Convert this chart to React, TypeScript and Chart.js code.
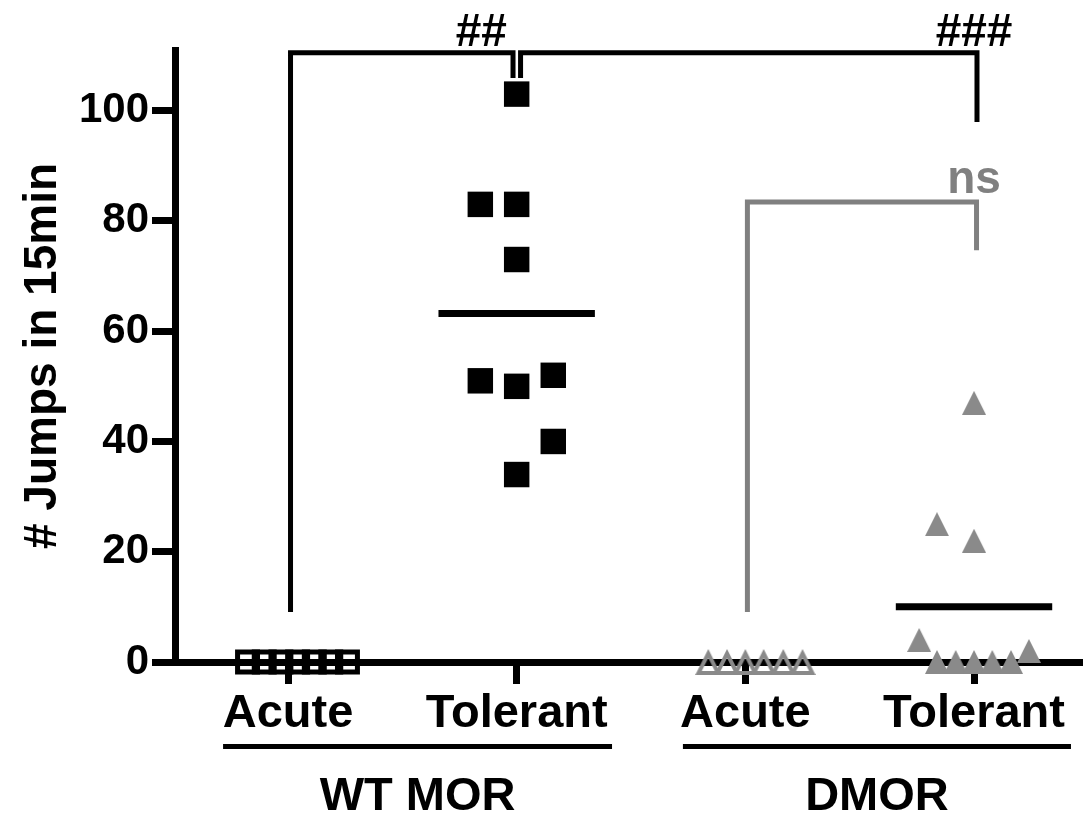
import React, { useEffect, useRef } from 'react';
import { Chart, registerables } from 'chart.js';

Chart.register(...registerables);

// ---- data ----
const categories = ['Acute', 'Tolerant', 'Acute', 'Tolerant'];
const categoryPos = [1, 2, 3, 4];
const yTicks = [0, 20, 40, 60, 80, 100];
const yTitle = '# Jumps in 15min';

const wtAcute = [0, 0, 0, 0, 0, 0, 0];
const wtAcuteJitter = [-0.177, -0.104, -0.031, 0.042, 0.115, 0.187, 0.26];

const wtTolerant = [103, 83, 83, 73, 51, 50, 52, 40, 34];
const wtTolerantJitter = [0, -0.159, 0, 0, -0.159, 0, 0.16, 0.16, 0];

const dmorAcute = [0, 0, 0, 0, 0, 0];
const dmorAcuteJitter = [-0.162, -0.08, 0, 0.08, 0.166, 0.25];

const dmorTolerant = [47, 25, 22, 4, 0, 0, 0, 0, 0, 2];
const dmorTolerantJitter = [0, -0.162, 0, -0.24, -0.162, -0.08, 0, 0.08, 0.162, 0.24];

const groupMeans = [0, 63.2, 0, 10];

const groupLabels = ['WT MOR', 'DMOR'];
const groupFrom = [0.716, 2.727];
const groupTo = [2.417, 4.424];

// significance brackets (x in category units, y in data units)
const brackets = [
  { from: 1.011, to: 1.984, top: 110.5, leftEnd: 9.07, rightEnd: 105.9, label: '##', labelX: 1.845, labelY: 111.7, color: '#000000' },
  { from: 2.017, to: 4.013, top: 110.5, leftEnd: 105.9, rightEnd: 97.94, label: '###', labelX: 4.0, labelY: 111.7, color: '#000000' },
  { from: 3.009, to: 4.011, top: 83.43, leftEnd: 9.07, rightEnd: 74.7, label: 'ns', labelX: 4.0, labelY: 85.06, color: '#808080' },
];

const FONT = "'Liberation Sans', Arial, Helvetica, sans-serif";
const GRAY = '#8a8a8a';

function triangleImage(size: number, color: string, filled: boolean, lw: number) {
  const c = document.createElement('canvas');
  c.width = size;
  c.height = size;
  const g = c.getContext('2d')!;
  g.fillStyle = color;
  g.beginPath();
  g.moveTo(size / 2, 0);
  g.lineTo(size, size);
  g.lineTo(0, size);
  g.closePath();
  g.fill();
  if (!filled) {
    g.globalCompositeOperation = 'destination-out';
    g.beginPath();
    g.moveTo(size / 2, 2.236 * lw);
    g.lineTo(size - 1.618 * lw, size - lw);
    g.lineTo(1.618 * lw, size - lw);
    g.closePath();
    g.fill();
    g.globalCompositeOperation = 'source-over';
  }
  return c;
}

const pts = (vals: number[], jit: number[], cat: number) =>
  vals.map((v, i) => ({ x: cat + jit[i], y: v }));

const overlayPlugin = {
  id: 'overlay',
  afterDraw(chart: any) {
    const { ctx, scales, chartArea } = chart;
    const x = scales.x;
    const y = scales.y;
    ctx.save();
    ctx.lineJoin = 'miter';
    ctx.lineCap = 'butt';
    brackets.forEach((b) => {
      ctx.strokeStyle = b.color;
      ctx.lineWidth = 5;
      const x1 = x.getPixelForValue(b.from);
      const x2 = x.getPixelForValue(b.to);
      ctx.beginPath();
      ctx.moveTo(x1, y.getPixelForValue(b.leftEnd));
      ctx.lineTo(x1, y.getPixelForValue(b.top));
      ctx.lineTo(x2, y.getPixelForValue(b.top));
      ctx.lineTo(x2, y.getPixelForValue(b.rightEnd));
      ctx.stroke();
      ctx.fillStyle = b.color;
      ctx.font = `bold 46px ${FONT}`;
      ctx.textAlign = 'center';
      ctx.textBaseline = 'alphabetic';
      ctx.fillText(b.label, x.getPixelForValue(b.labelX), y.getPixelForValue(b.labelY));
    });
    // group underlines and labels
    groupLabels.forEach((lab, i) => {
      const a = x.getPixelForValue(groupFrom[i]);
      const z = x.getPixelForValue(groupTo[i]);
      ctx.strokeStyle = '#000';
      ctx.lineWidth = 5;
      ctx.beginPath();
      ctx.moveTo(a, chartArea.bottom + 84.5);
      ctx.lineTo(z, chartArea.bottom + 84.5);
      ctx.stroke();
      ctx.fillStyle = '#000';
      ctx.font = `bold 47px ${FONT}`;
      ctx.textAlign = 'center';
      ctx.textBaseline = 'alphabetic';
      ctx.fillText(lab, (a + z) / 2, chartArea.bottom + 148);
    });
    ctx.restore();
  },
};

export default function App() {
  const ref = useRef<HTMLCanvasElement | null>(null);
  useEffect(() => {
    if (!ref.current) return;
    const openTri = triangleImage(26, GRAY, false, 4);
    const fullTri = triangleImage(24, GRAY, true, 0);
    const meanHalf = 0.342;
    // means of zero sit under the x axis and are hidden in the reference
    const meanSets = groupMeans
      .map((m, i) => ({ m, i }))
      .filter(({ m }) => m > 0)
      .map(({ m, i }) => ({
        type: 'line' as const,
        data: [
          { x: categoryPos[i] - meanHalf, y: m },
          { x: categoryPos[i] + meanHalf, y: m },
        ],
        borderColor: '#000',
        borderWidth: 7,
        pointRadius: 0,
        showLine: true,
        clip: false as any,
      }));
    const chart = new Chart(ref.current, {
      type: 'scatter',
      data: {
        datasets: [
          ...meanSets,
          {
            data: pts(wtTolerant, wtTolerantJitter, categoryPos[1]),
            pointStyle: 'rect',
            pointRadius: 18,
            backgroundColor: '#000',
            borderWidth: 0,
            clip: false as any,
          },
          {
            data: pts(wtAcute, wtAcuteJitter, categoryPos[0]),
            pointStyle: 'rect',
            pointRadius: 14.1,
            backgroundColor: 'rgba(0,0,0,0)',
            borderColor: '#000',
            borderWidth: 5,
            clip: false as any,
          },
          {
            data: pts(dmorAcute, dmorAcuteJitter, categoryPos[2]),
            pointStyle: openTri as any,
            pointRadius: 13,
            clip: false as any,
          },
          {
            data: pts(dmorTolerant, dmorTolerantJitter, categoryPos[3]),
            pointStyle: fullTri as any,
            pointRadius: 12,
            clip: false as any,
          },
        ] as any,
      },
      options: {
        animation: false,
        responsive: false,
        layout: { autoPadding: false, padding: { top: 50, right: 0, left: 0, bottom: 0 } },
        plugins: { legend: { display: false }, tooltip: { enabled: false } },
        scales: {
          x: {
            type: 'linear',
            min: 0.5058,
            max: 4.4766,
            z: 1,
            border: { display: true, color: '#000', width: 7 },
            grid: { display: true, drawOnChartArea: false, drawTicks: true, tickLength: 22, tickWidth: 7, tickColor: '#000', color: '#000' },
            afterBuildTicks: (axis: any) => {
              axis.ticks = categoryPos.map((v) => ({ value: v }));
            },
            ticks: {
              autoSkip: false,
              maxRotation: 0,
              padding: 2,
              color: '#000',
              font: { family: FONT, size: 47, weight: 'bold' },
              callback: (v: any) => categories[categoryPos.indexOf(Number(v))] ?? '',
            },
            afterFit: (s: any) => {
              s.height = 154;
              s.paddingLeft = 0;
              s.paddingRight = 0;
            },
          },
          y: {
            type: 'linear',
            min: 0,
            max: 111,
            z: 1,
            border: { display: true, color: '#000', width: 7 },
            grid: { display: true, drawOnChartArea: false, drawTicks: true, tickLength: 23, tickWidth: 7, tickColor: '#000', color: '#000' },
            afterBuildTicks: (axis: any) => {
              axis.ticks = yTicks.map((v) => ({ value: v }));
            },
            ticks: {
              padding: 3,
              color: '#000',
              font: { family: FONT, size: 42, weight: 'bold' },
            },
            title: {
              display: true,
              text: yTitle,
              color: '#000',
              padding: { top: 16, bottom: 0 },
              font: { family: FONT, size: 46, weight: 'bold', lineHeight: 1.2 },
            },
            afterFit: (s: any) => {
              s.width = 175;
              s.paddingTop = 0;
              s.paddingBottom = 0;
            },
          },
        },
      },
      plugins: [overlayPlugin],
    } as any);
    return () => chart.destroy();
  }, []);
  return (
    <div style={{ position: 'absolute', left: 0, top: 0, width: 1083, height: 816, background: '#fff' }}>
      <canvas ref={ref} width={1083} height={816} style={{ display: 'block' }} />
    </div>
  );
}
